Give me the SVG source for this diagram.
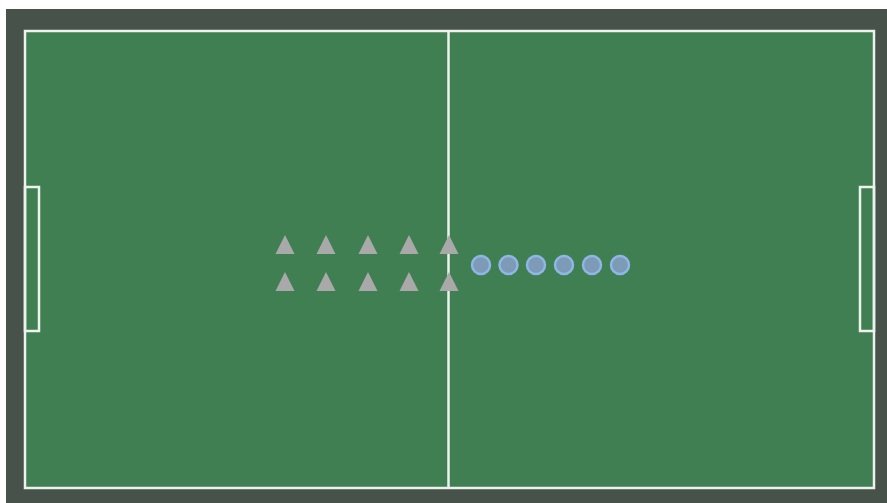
<svg xmlns="http://www.w3.org/2000/svg" width="887" height="503" viewBox="0 0 887 503">
<style>
.line{fill:none;stroke:#eef2ee;stroke-width:2.5}
.tri{fill:#a9a9a9}
.dot{fill:#7d9ab6;stroke:#8fb6e6;stroke-width:2.5}
</style>
<defs>
<polygon id="t" class="tri" points="0,-10 9.5,9 -9.5,9"/>
<circle id="c" class="dot" r="9"/>
</defs>
<rect x="0" y="0" width="887" height="503" fill="#ffffff"/>
<rect x="6" y="9" width="881" height="494" fill="#46524a"/>
<rect id="field" x="25" y="31" width="849" height="457" fill="#3f7f51"/>
<g id="markings">
<rect class="line" x="25" y="31" width="849" height="457"/>
<line class="line" x1="448.5" y1="31" x2="448.5" y2="488"/>
<rect class="line" x="25" y="187" width="14" height="144"/>
<rect class="line" x="860" y="187" width="14" height="144"/>
</g>
<g id="triangles">
<use href="#t" x="285" y="245"/>
<use href="#t" x="326" y="245"/>
<use href="#t" x="368" y="245"/>
<use href="#t" x="409" y="245"/>
<use href="#t" x="449" y="245"/>
<use href="#t" x="285" y="282"/>
<use href="#t" x="326" y="282"/>
<use href="#t" x="368" y="282"/>
<use href="#t" x="409" y="282"/>
<use href="#t" x="449" y="282"/>
</g>
<g id="circles">
<use href="#c" x="481" y="265"/>
<use href="#c" x="508.5" y="265"/>
<use href="#c" x="536" y="265"/>
<use href="#c" x="564" y="265"/>
<use href="#c" x="592" y="265"/>
<use href="#c" x="620" y="265"/>
</g>
</svg>
